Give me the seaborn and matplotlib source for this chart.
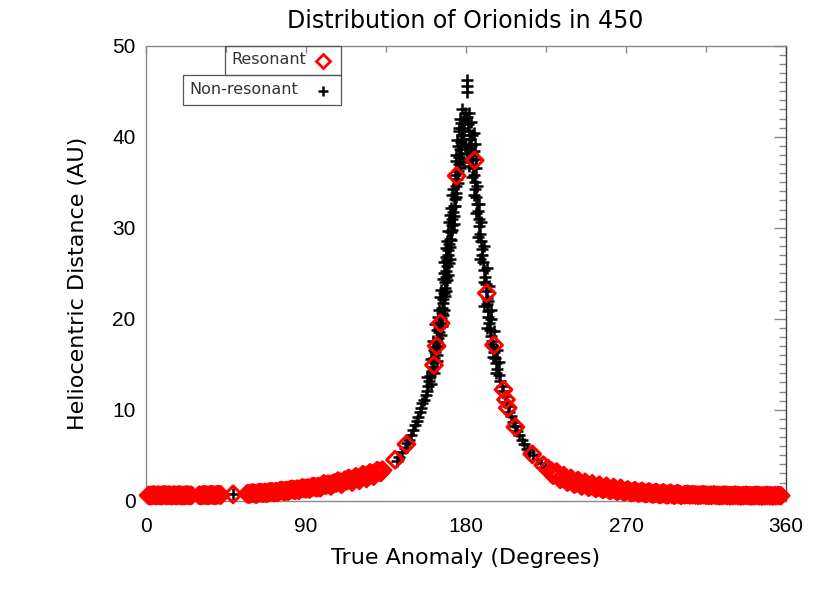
import matplotlib
matplotlib.use("Agg")
import matplotlib.pyplot as plt
from matplotlib.patches import Rectangle
from matplotlib.lines import Line2D
import pandas as pd
import seaborn as sns

# ---------------- data ----------------
title = "Distribution of Orionids in 450"
x_label = "True Anomaly (Degrees)"
y_label = "Heliocentric Distance (AU)"
x_ticks = [0, 90, 180, 270, 360]
y_ticks = [0, 10, 20, 30, 40, 50]
legend_labels = ["Resonant", "Non-resonant"]

# Non-resonant particles (black +): ascending branch
nonres_left_theta = [141.0, 142.5, 144.0, 145.5, 146.6, 147.8, 148.9, 150.4, 151.2, 152.4,
                     153.2, 154.0, 154.6, 155.3, 156.4, 157.5, 158.0, 158.6, 159.4, 159.8,
                     160.6, 161.4, 161.9, 162.2, 162.8, 163.1, 163.6, 164.2, 164.6, 165.0,
                     165.4, 165.9, 166.3, 166.6, 167.0, 167.3, 167.6, 168.0, 168.3, 168.6,
                     169.0, 169.3, 169.5, 169.8, 170.1, 170.6, 171.0, 171.5, 172.0, 172.4,
                     172.9, 173.4, 173.8, 174.2, 174.6, 175.0, 175.4, 175.8, 176.2, 176.6,
                     177.0, 177.5, 178.0, 178.6, 179.2,
                     163.9, 161.8, 165.8, 163.7, 167.0, 164.8, 168.2, 166.2, 169.3, 167.5,
                     170.2, 168.6, 171.2, 169.2, 172.3, 170.6, 173.5, 171.8, 174.6, 172.8,
                     175.6, 174.0, 176.5, 174.6, 177.3, 175.3, 178.2, 176.2, 177.0, 179.0,
                     160.5, 158.2, 162.0, 160.2, 163.5, 161.2, 164.6, 162.6, 166.4, 164.0,
                     167.6, 165.3, 168.6, 166.8, 169.8, 167.8, 171.0, 168.8, 171.8, 170.0,
                     173.0, 171.0, 174.0, 172.4,
                     49.0]
nonres_left_r = [4.4, 4.8, 5.3, 5.8, 6.3, 6.7, 7.2, 7.8, 8.3, 8.8,
                 9.2, 9.7, 10.2, 10.7, 11.1, 11.6, 12.1, 12.6, 13.2, 13.7,
                 14.2, 14.7, 15.2, 15.7, 16.3, 16.9, 17.4, 17.9, 18.5, 19.0,
                 19.5, 20.1, 20.6, 21.2, 21.7, 22.2, 22.8, 23.4, 24.0, 24.6,
                 25.2, 25.8, 26.4, 27.0, 27.6, 28.2, 28.8, 29.5, 30.3, 31.0,
                 31.7, 32.4, 33.1, 33.8, 34.6, 35.4, 36.2, 37.0, 37.8, 38.6,
                 39.4, 40.2, 41.0, 41.8, 42.6,
                 16.0, 16.6, 18.2, 18.8, 20.4, 21.0, 22.5, 23.1, 24.3, 25.0,
                 26.1, 26.8, 27.9, 28.5, 29.8, 30.6, 31.3, 32.2, 33.4, 34.2,
                 34.9, 35.8, 36.6, 37.3, 38.1, 39.0, 39.8, 40.6, 41.5, 40.6,
                 12.8, 13.6, 14.0, 15.6, 15.4, 17.6, 17.0, 19.4, 19.2, 20.2,
                 21.0, 22.4, 23.0, 24.4, 24.8, 26.2, 26.6, 27.8, 28.6, 29.6,
                 30.4, 31.4, 32.4, 33.6,
                 0.70]

# Non-resonant particles (black +): descending branch and top of the peak
nonres_right_theta = [224.5, 222.0, 219.8, 217.5, 215.5, 214.1, 212.6, 211.3, 210.0, 208.8,
                      207.6, 206.3, 205.2, 204.2, 203.4, 202.6, 201.9, 201.0, 200.2, 199.3,
                      198.4, 197.6, 197.0, 196.4, 195.9, 195.3, 194.6, 194.0, 193.3, 192.8,
                      192.4, 192.2, 191.9, 191.6, 191.3, 191.0, 190.7, 190.2, 189.7, 189.2,
                      188.8, 188.4, 188.0, 187.5, 187.1, 186.7, 186.2, 185.8, 185.3, 184.9,
                      184.5, 184.0, 183.6, 183.2, 182.8, 182.3, 181.8, 181.2, 180.6,
                      193.8, 192.6, 190.0, 191.8, 188.0, 189.9, 186.9, 188.6, 185.6, 187.5,
                      184.4, 186.4, 183.5, 185.6, 182.5, 184.4, 181.6, 183.5,
                      196.8, 198.8, 195.0, 197.2, 193.8, 195.6, 192.0, 194.0, 190.4, 192.8,
                      178.0, 181.8, 176.5, 183.0, 175.8, 184.5, 174.8, 185.2, 179.5, 180.8,
                      174.2, 185.8, 178.5, 181.5,
                      180.4, 180.4, 180.4]
nonres_right_r = [3.7, 4.1, 4.6, 5.0, 5.4, 5.7, 6.2, 6.7, 7.2, 7.7,
                  8.2, 8.7, 9.3, 9.8, 10.4, 10.9, 11.5, 12.1, 12.6, 13.2,
                  13.8, 14.5, 15.1, 15.7, 16.3, 16.9, 17.5, 18.1, 18.8, 19.5,
                  20.2, 20.9, 21.6, 22.3, 23.0, 23.8, 24.6, 25.4, 26.2, 27.0,
                  27.7, 28.5, 29.3, 30.2, 31.0, 31.8, 32.6, 33.4, 34.2, 35.0,
                  35.8, 36.6, 37.4, 38.2, 39.0, 39.8, 40.6, 41.4, 42.2,
                  20.0, 22.0, 24.0, 25.6, 26.6, 28.0, 29.0, 30.6, 31.6, 32.6,
                  33.6, 34.6, 35.6, 36.6, 37.6, 38.4, 39.2, 40.2,
                  14.0, 15.2, 15.8, 16.6, 17.2, 18.6, 19.0, 21.0, 21.4, 23.6,
                  43.0, 42.6, 42.0, 41.6, 41.0, 40.4, 39.6, 39.2, 39.0, 38.2,
                  38.0, 37.6, 37.2, 36.8,
                  44.9, 45.6, 46.2]

# Resonant particles (red diamonds): before the peak
res_left_theta = [1.5, 3.5, 5.5, 7.5, 9.5, 11.5, 13.5, 15.5, 17.5, 19.5,
                  21.5, 23.5, 25.5, 30.0, 32.0, 34.0, 36.0, 38.0, 40.0, 42.0,
                  2.5, 4.5, 6.5, 8.5, 10.5, 12.5, 14.5, 16.5, 18.5, 20.5,
                  22.5, 24.5, 31.0, 33.0, 35.0, 37.0, 39.0, 41.0,
                  49.0,
                  57.0, 59.0, 61.0, 63.0, 65.0, 67.0, 69.0, 71.0, 73.0, 75.0,
                  77.0, 79.0, 81.0, 83.0, 85.0, 87.0, 89.0, 91.0, 93.0, 95.0,
                  97.0, 99.0, 101.0, 103.0, 105.0, 107.0, 109.0, 111.0, 113.0, 115.0,
                  117.0, 119.0, 121.0, 123.0, 125.0, 127.0, 129.0, 131.0, 133.0,
                  58.0, 60.0, 64.0, 66.0, 70.0, 72.0, 76.0, 78.0, 82.0, 84.0,
                  88.0, 90.0, 94.0, 96.0, 102.0, 106.0, 112.0, 132.0,
                  62.0, 68.0, 74.0, 80.0, 86.0, 92.0, 98.0, 104.0, 110.0, 116.0,
                  120.0, 124.0, 128.0, 100.0, 108.0, 114.0, 118.0, 122.0, 126.0, 130.0]
res_left_r = [0.58, 0.60, 0.57, 0.59, 0.61, 0.58, 0.60, 0.62, 0.58, 0.60,
              0.57, 0.61, 0.59, 0.60, 0.62, 0.60, 0.63, 0.61, 0.64, 0.62,
              0.55, 0.63, 0.60, 0.56, 0.64, 0.61, 0.55, 0.59, 0.63, 0.56,
              0.62, 0.58, 0.57, 0.65, 0.58, 0.66, 0.59, 0.66,
              0.70,
              0.76, 0.80, 0.78, 0.84, 0.86, 0.90, 0.93, 0.97, 1.00, 1.05,
              1.08, 1.13, 1.18, 1.20, 1.27, 1.30, 1.36, 1.40, 1.47, 1.52,
              1.57, 1.65, 1.70, 1.80, 1.86, 1.95, 2.02, 2.12, 2.20, 2.30,
              2.38, 2.50, 2.60, 2.72, 2.85, 2.95, 3.05, 3.20, 3.35,
              0.72, 0.85, 0.90, 0.82, 0.98, 0.90, 1.12, 1.00, 1.25, 1.14,
              1.40, 1.30, 1.55, 1.42, 1.78, 1.95, 2.25, 3.10,
              0.72, 0.82, 0.92, 1.05, 1.15, 1.28, 1.42, 1.62, 1.82, 2.05,
              2.25, 2.45, 2.70, 1.85, 2.15, 2.45, 2.62, 2.85, 3.05, 3.30]

# Resonant particles scattered along the peak
res_peak_theta = [140.1, 146.5, 162.0, 163.5, 165.7, 174.7, 184.9, 191.7, 195.8, 201.1,
                  202.5, 203.5, 207.8, 217.3, 223.5]
res_peak_r = [4.5, 6.2, 14.9, 17.0, 19.5, 35.7, 37.4, 22.8, 17.1, 12.2,
              11.1, 10.2, 8.1, 5.1, 3.9]

# Resonant particles: after the peak
res_right_theta = [226, 228, 230, 232, 234, 236, 238, 240, 242, 244,
                   246, 248, 250, 252, 254, 256, 258, 260, 262, 264,
                   266, 268, 270, 272, 274, 276, 278, 280, 282, 284,
                   286, 288, 290, 292, 294, 296, 298, 300, 303, 306,
                   309, 312, 315, 318, 321, 324, 327, 330, 333, 336,
                   339, 342, 345, 348, 351, 354, 357,
                   229, 233, 237, 241, 245, 249, 253, 257, 261, 265,
                   269, 273, 277, 281, 285, 289, 293, 297, 301,
                   231, 235, 239, 243, 247, 251, 255, 259, 263, 267,
                   271, 275, 279, 283, 287, 291, 295, 299,
                   304.5, 307.5, 310.5, 313.5, 316.5, 319.5, 322.5, 325.5, 328.5, 331.5,
                   334.5, 337.5, 340.5, 343.5, 346.5, 349.5, 352.5, 355.5]
res_right_r = [3.55, 3.25, 3.00, 2.75, 2.55, 2.40, 2.25, 2.10, 1.98, 1.88,
               1.78, 1.70, 1.62, 1.55, 1.48, 1.42, 1.36, 1.30, 1.24, 1.19,
               1.14, 1.09, 1.05, 1.01, 0.97, 0.94, 0.91, 0.88, 0.85, 0.82,
               0.80, 0.78, 0.76, 0.74, 0.72, 0.70, 0.69, 0.68, 0.66, 0.64,
               0.63, 0.62, 0.61, 0.60, 0.59, 0.58, 0.58, 0.57, 0.57, 0.56,
               0.56, 0.56, 0.55, 0.55, 0.55, 0.55, 0.55,
               2.80, 2.35, 2.05, 1.82, 1.62, 1.48, 1.35, 1.24, 1.14, 1.05,
               0.97, 0.90, 0.84, 0.78, 0.73, 0.68, 0.64, 0.61, 0.59,
               3.15, 2.75, 2.45, 2.22, 2.02, 1.85, 1.70, 1.58, 1.45, 1.35,
               1.18, 1.10, 1.02, 0.96, 0.90, 0.86, 0.82, 0.78,
               0.70, 0.67, 0.60, 0.66, 0.58, 0.64, 0.56, 0.62, 0.55, 0.61,
               0.53, 0.60, 0.53, 0.59, 0.52, 0.58, 0.53, 0.58]

nonres_df = pd.DataFrame({"theta": nonres_left_theta + nonres_right_theta,
                          "r": nonres_left_r + nonres_right_r})
res_df = pd.DataFrame({"theta": res_left_theta + res_peak_theta + res_right_theta,
                       "r": res_left_r + res_peak_r + res_right_r})

# ---------------- figure ----------------
sns.set_style("white")
plt.rcParams["font.family"] = ["DejaVu Sans"]

W, H = 830, 593
fig = plt.figure(figsize=(W / 100, H / 100), dpi=100)
ax = fig.add_axes([146 / W, 92.3 / H, 640 / W, 455 / H])

sns.scatterplot(data=nonres_df, x="theta", y="r", marker="+", color="black",
                s=64, linewidth=1.8, ax=ax, clip_on=False, zorder=3, legend=False)
sns.scatterplot(data=res_df, x="theta", y="r", marker="D", color="red",
                s=72, linewidth=2.2, ax=ax, clip_on=False, zorder=4, legend=False)
coll = ax.collections[-1]
coll.set_facecolor("none")
coll.set_edgecolor("#ff0000")

ax.set_xlim(0, 360)
ax.set_ylim(0, 50)
ax.set_xticks(x_ticks)
ax.set_xticks(range(0, 361, 45), minor=True)
ax.set_yticks(y_ticks)
ax.set_yticks(range(0, 51, 1), minor=True)
ax.set_xticklabels([str(t) for t in x_ticks])
ax.set_yticklabels([str(t) for t in y_ticks])

for side, sp in ax.spines.items():
    sp.set_visible(True)
    sp.set_color("#8a8a8a")
    sp.set_linewidth(1.0)
ax.spines["right"].set_color("#444444")

ax.tick_params(which="both", direction="in", top=True, right=True,
               colors="#8a8a8a", labelcolor="black")
ax.tick_params(axis="x", which="major", length=5, width=1, pad=12,
               labelsize=15, labelfontfamily="Liberation Sans")
ax.tick_params(axis="x", which="minor", length=4, width=1)
ax.tick_params(axis="y", which="major", length=8.5, width=1, pad=7.5,
               labelsize=15, labelfontfamily="Liberation Sans")
ax.tick_params(axis="y", which="minor", length=4.8, width=1)

ax.set_xlabel(x_label, fontsize=16, color="black")
ax.set_ylabel(y_label, fontsize=16, color="black")
ax.xaxis.set_label_coords(0.4995, (500.7 - 558) / 455)
ax.xaxis.label.set_verticalalignment("center")
ax.yaxis.set_label_coords((78 - 146) / 640, (500.7 - 283.5) / 455)
ax.yaxis.label.set_verticalalignment("center")

fig.text(465 / W, 1 - 28.3 / H, title, ha="center", va="baseline",
         fontsize=17, color="black")

# ---------------- IDL-style legend boxes ----------------
box_col = "#555555"
fig.add_artist(Rectangle((225 / W, 1 - 75 / H), (341 - 225) / W, (75 - 45.7) / H,
                         transform=fig.transFigure, fill=False, edgecolor=box_col, lw=0.9))
fig.add_artist(Rectangle((182.7 / W, 1 - 105 / H), (341 - 182.7) / W, (105 - 75) / H,
                         transform=fig.transFigure, fill=False, edgecolor=box_col, lw=0.9))
fig.text(231.7 / W, 1 - 60 / H, legend_labels[0], ha="left", va="center",
         fontsize=11.5, color="#333333")
fig.text(189.3 / W, 1 - 90 / H, legend_labels[1], ha="left", va="center",
         fontsize=11.5, color="#333333")
fig.add_artist(Line2D([322.7 / W], [1 - 60.7 / H], transform=fig.transFigure,
                      marker="D", markersize=7.5, markerfacecolor="none",
                      markeredgecolor="#ff0000", markeredgewidth=2.0, linestyle="none"))
fig.add_artist(Line2D([323.3 / W], [1 - 91 / H], transform=fig.transFigure,
                      marker="+", markersize=7.0, color="black",
                      markeredgewidth=1.8, linestyle="none"))

fig.savefig("out.png", dpi=100)
